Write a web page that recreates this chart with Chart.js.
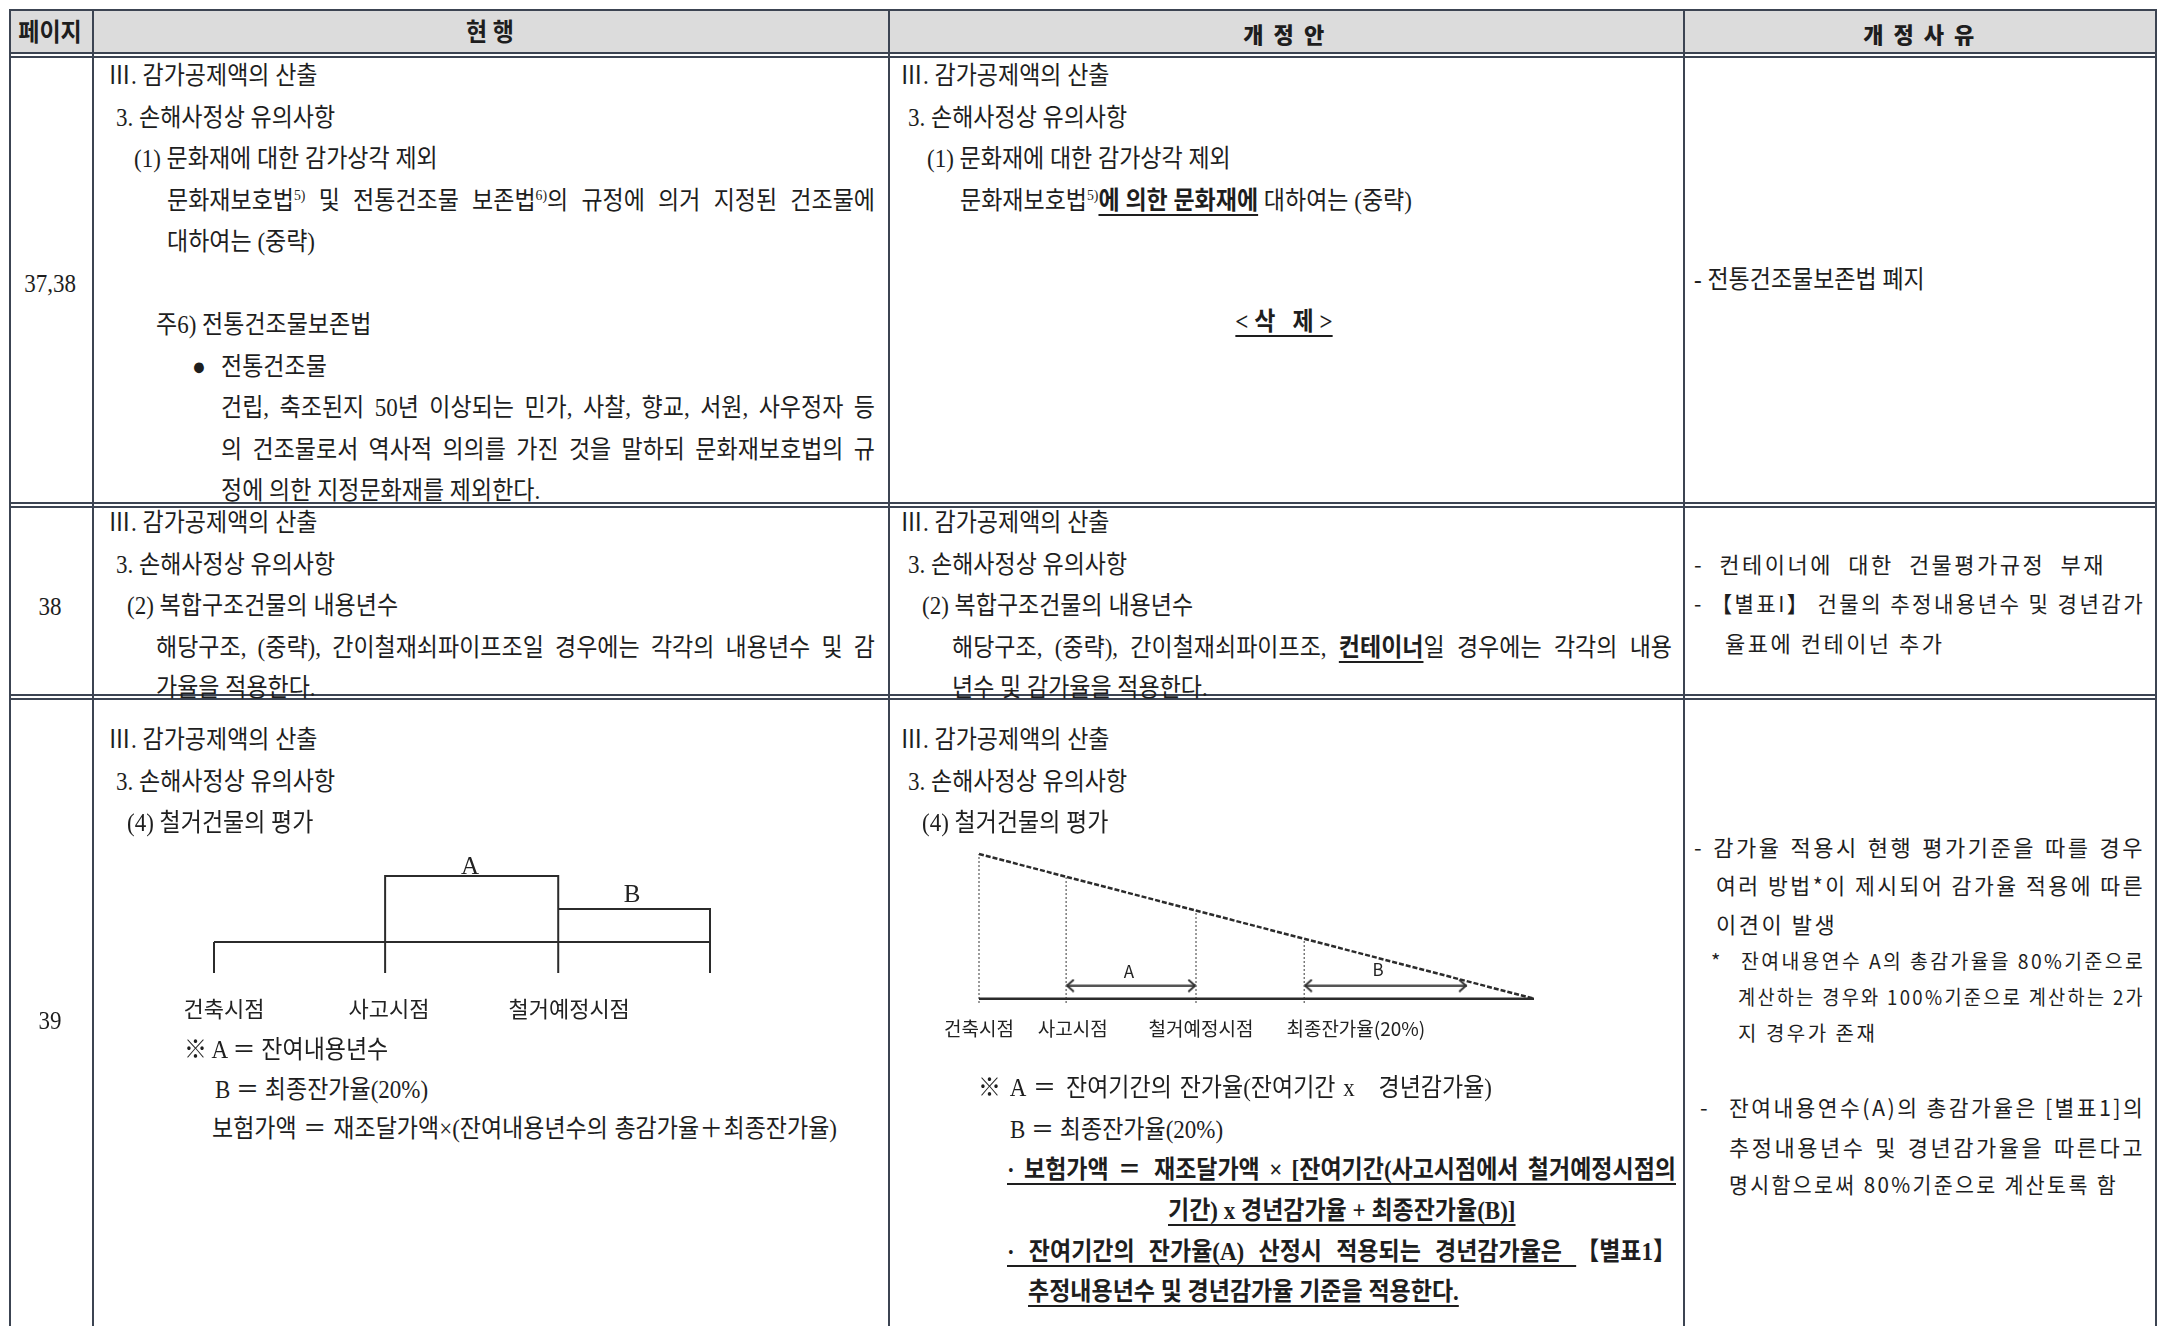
<!DOCTYPE html>
<html>
<head>
<meta charset="utf-8">
<script src="https://cdn.jsdelivr.net/npm/chart.js@4.4.1/dist/chart.umd.min.js"></script>
<style>
  body { margin: 0; width: 2170px; height: 1326px; overflow: hidden; position: relative; background: #fff; color: #1e1e1e; }
  .ln { position: absolute; background: #3c4452; }
  .t { position: absolute; height: 40px; line-height: 40px; white-space: nowrap; transform-origin: 0 50%; }
  .n { font-family: "Liberation Serif", "Noto Sans CJK KR", serif; font-size: 25px; }
  .g { font-family: "Noto Sans CJK KR", sans-serif; font-size: 22px; letter-spacing: 2.5px; }
  .s { font-size: 20px; }
  .b { font-weight: bold; }
  .k { display: inline-block; }
  u { text-underline-offset: 5px; text-decoration-thickness: 1.5px; }
  sup { font-size: 60%; line-height: 0; }
  .box { position: absolute; }
</style>
</head>
<body>
<div class="box" style="left:154px;top:820px;"><canvas id="diagram-now" width="606" height="210"></canvas></div>
<div class="box" style="left:920px;top:820px;"><canvas id="diagram-new" width="700" height="250"></canvas></div>
<script>
// 현행 도식: 건축시점 -> 사고시점 -> 철거예정시점 -> 내용년수 끝
const stepX = [0, 34.5, 69.4, 100];
const levelA = 2;      // 잔여내용년수 칸 높이
const levelB = 1;      // 최종잔가율 칸 높이
const tickLow = -0.94; // 눈금 아래 끝
const stepLabels = ['건축시점', '사고시점', '철거예정시점'];
const stepLabelX = [2, 35.3, 71.6];
const stepMarkText = ['A', 'B'];
const stepMarkX = [51.6, 84.3];
const stepMarkY = [2.27, 1.42];

// 개정안 도식: 잔가율 직선 (건축시점 100% -> 0)
const lifeX = [0, 15.7, 39.1, 58.6, 100];   // 건축, 사고, 철거예정, 최종잔가 시작, 끝
const residual = [100, 84, 61, 41, 0];      // 각 시점의 잔가
const guideLow = -3;
const arrowY = 9;
const arrowBEnd = 87.9;
const lifeLabels = ['건축시점', '사고시점', '철거예정시점', '최종잔가율(20%)'];
const lifeLabelX = [0, 16.9, 40, 67.9];
const lifeMarkText = ['A', 'B'];
const lifeMarkX = [27, 71.9];
const lifeMarkY = [18.6, 20];

// ---------- table frame ----------
function rule(x, y, w, h) {
  const d = document.createElement('div');
  d.className = 'ln';
  Object.assign(d.style, { left: x + 'px', top: y + 'px', width: w + 'px', height: h + 'px' });
  document.body.appendChild(d);
}
const head = document.createElement('div');
Object.assign(head.style, { position: 'absolute', left: '9px', top: '9px', width: '2147px', height: '45px', background: '#dcdcdc' });
document.body.appendChild(head);

rule(9, 9, 2147, 2);
rule(9, 52, 2147, 1.5); rule(9, 56, 2147, 1.5);
rule(9, 502, 2147, 1.5); rule(9, 506, 2147, 1.5);
rule(9, 694, 2147, 1.5); rule(9, 698, 2147, 1.5);
[9, 92, 888, 1683, 2155].forEach(x => rule(x, 9, 1.6, 1330));

// ---------- text ----------
function put(x, y, html, o = {}) {
  const d = document.createElement('div');
  d.className = 't ' + (o.cls || 'n');
  d.innerHTML = html;
  let sx = o.sx || (o.cls && o.cls.indexOf('g') >= 0 ? 1 : 0.92);
  d.style.top = (y - 20) + 'px';
  document.body.appendChild(d);
  if (o.c) {
    d.style.left = (x - 300) + 'px';
    d.style.width = '600px';
    d.style.textAlign = 'center';
    d.style.transformOrigin = '50% 50%';
  } else {
    d.style.left = x + 'px';
  }
  if (o.r) {
    const avail = o.r - x;
    const natural = d.offsetWidth;
    sx = Math.min(sx, avail / natural);
    d.style.width = (avail / sx) + 'px';
    d.style.textAlign = 'justify';
    d.style.textAlignLast = 'justify';
    d.style.textJustify = 'inter-word';
  }
  d.style.transform = 'scaleX(' + sx + ')';
}

// header
put(50, 33, '<b>페이지</b>', { c: true });
put(490, 33, '<b>현 행</b>', { c: true });
put(1285, 33, '<b>개 정 안</b>', { c: true, cls: 'g b', sx: 1 });
put(1920, 33, '<b>개 정 사 유</b>', { c: true, cls: 'g b', sx: 1 });

// page numbers
put(50, 284, '37,38', { c: true });
put(50, 607, '38', { c: true });
put(50, 1021, '39', { c: true });

// row 1 — 현행
put(108, 76, 'Ⅲ. 감가공제액의 산출');
put(116, 118, '3. 손해사정상 유의사항');
put(134, 159, '(1) 문화재에 대한 감가상각 제외');
put(167, 201, '문화재보호법<sup>5)</sup> 및 전통건조물 보존법<sup>6)</sup>의 규정에 의거 지정된 건조물에', { r: 875 });
put(167, 242, '대하여는 (중략)');
put(156, 325, '주6) 전통건조물보존법');
put(192, 367, '●');
put(221, 367, '전통건조물');
put(221, 408, '건립, 축조된지 50년 이상되는 민가, 사찰, 향교, 서원, 사우정자 등', { r: 875 });
put(221, 450, '의 건조물로서 역사적 의의를 가진 것을 말하되 문화재보호법의 규', { r: 875 });
put(221, 491, '정에 의한 지정문화재를 제외한다.');

// row 1 — 개정안
put(900, 76, 'Ⅲ. 감가공제액의 산출');
put(908, 118, '3. 손해사정상 유의사항');
put(927, 159, '(1) 문화재에 대한 감가상각 제외');
put(960, 201, '문화재보호법<sup>5)</sup><b><u>에 의한 문화재에</u></b> 대하여는 (중략)');
put(1284, 322, '<b><u>&lt; 삭&nbsp;&nbsp;&nbsp;제 &gt;</u></b>', { c: true });

// row 1 — 개정사유
put(1694, 280, '- 전통건조물보존법 폐지');

// row 2 — 현행
put(108, 523, 'Ⅲ. 감가공제액의 산출');
put(116, 565, '3. 손해사정상 유의사항');
put(127, 606, '(2) 복합구조건물의 내용년수');
put(156, 648, '해당구조, (중략), 간이철재쇠파이프조일 경우에는 각각의 내용년수 및 감', { r: 875 });
put(156, 688, '가율을 적용한다.');

// row 2 — 개정안
put(900, 523, 'Ⅲ. 감가공제액의 산출');
put(908, 565, '3. 손해사정상 유의사항');
put(922, 606, '(2) 복합구조건물의 내용년수');
put(952, 648, '해당구조, (중략), 간이철재쇠파이프조, <b><u>컨테이너</u></b>일 경우에는 각각의 내용', { r: 1672 });
put(952, 688, '년수 및 감가율을 적용한다.');

// row 2 — 개정사유
put(1694, 563, '- 컨테이너에 대한 건물평가규정 부재', { cls: 'g', r: 2106 });
put(1694, 602, '- <span class="k">【별표I】</span> 건물의 추정내용년수 및 경년감가', { cls: 'g', r: 2145 });
put(1725, 642, '율표에 컨테이넌 추가', { cls: 'g' });

// row 3 — 현행
put(108, 740, 'Ⅲ. 감가공제액의 산출');
put(116, 782, '3. 손해사정상 유의사항');
put(127, 823, '(4) 철거건물의 평가');
put(184, 1050, '※ A ＝ 잔여내용년수');
put(215, 1090, 'B ＝ 최종잔가율(20%)');
put(212, 1129, '보험가액 ＝ 재조달가액×(잔여내용년수의 총감가율＋최종잔가율)', { r: 837 });

// row 3 — 개정안
put(900, 740, 'Ⅲ. 감가공제액의 산출');
put(908, 782, '3. 손해사정상 유의사항');
put(922, 823, '(4) 철거건물의 평가');
put(978, 1088, '※ A ＝ 잔여기간의 잔가율(잔여기간 x&nbsp;&nbsp; 경년감가율)', { r: 1492 });
put(1010, 1130, 'B ＝ 최종잔가율(20%)');
put(1007, 1170, '<b><u>· 보험가액 ＝ 재조달가액 × [잔여기간(사고시점에서 철거예정시점의</u></b>', { r: 1676 });
put(1168, 1211, '<b><u>기간) x 경년감가율 + 최종잔가율(B)]</u></b>');
put(1007, 1252, '<b><u>· 잔여기간의 잔가율(A) 산정시 적용되는 경년감가율은 <span class="k">【별표1】</span></u></b>', { r: 1676 });
put(1028, 1292, '<b><u>추정내용년수 및 경년감가율 기준을 적용한다.</u></b>');

// row 3 — 개정사유
put(1694, 846, '- 감가율 적용시 현행 평가기준을 따를 경우', { cls: 'g', r: 2145 });
put(1716, 884, '여러 방법*이 제시되어 감가율 적용에 따른', { cls: 'g', r: 2145 });
put(1716, 923, '이견이 발생', { cls: 'g' });
put(1711, 961, '*', { cls: 'g s' });
put(1741, 961, '잔여내용연수 A의 총감가율을 80%기준으로', { cls: 'g s', r: 2145 });
put(1738, 997, '계산하는 경우와 100%기준으로 계산하는 2가', { cls: 'g s', r: 2145 });
put(1738, 1033, '지 경우가 존재', { cls: 'g s' });
put(1700, 1106, '-', { cls: 'g' });
put(1729, 1106, '잔여내용연수(A)의 총감가율은 [별표1]의', { cls: 'g', r: 2145 });
put(1729, 1146, '추정내용년수 및 경년감가율을 따른다고', { cls: 'g', r: 2145 });
put(1729, 1183, '명시함으로써 80%기준으로 계산토록 함', { cls: 'g', r: 2118 });

// ---------- diagrams ----------
const markPlugin = {
  id: 'marks',
  afterDatasetsDraw(chart, args, opts) {
    const { ctx, scales: { x, y } } = chart;
    ctx.save();
    ctx.font = opts.font;
    ctx.fillStyle = '#222';
    ctx.textAlign = 'center';
    ctx.textBaseline = 'middle';
    opts.text.forEach((t, i) => ctx.fillText(t, x.getPixelForValue(opts.xs[i]), y.getPixelForValue(opts.ys[i])));
    ctx.restore();
  }
};

function chevron(s) {
  const c = document.createElement('canvas');
  c.width = 2 * s; c.height = s;
  const g = c.getContext('2d');
  g.strokeStyle = '#333'; g.lineWidth = 2;
  g.beginPath(); g.moveTo(s * 0.45, 1); g.lineTo(s - 1, s / 2); g.lineTo(s * 0.45, s - 1); g.stroke();
  return c;
}

const seg = (pts, extra = {}) => Object.assign({
  data: pts, showLine: true, borderColor: '#2b2b2b', borderWidth: 2, pointRadius: 0, clip: false, tension: 0
}, extra);

const labelAxis = (labels, labelX, h, pad, size) => ({
  type: 'linear', min: 0, max: 100,
  grid: { display: false, drawTicks: false }, border: { display: false },
  afterBuildTicks: s => { s.ticks = labelX.map(v => ({ value: v })); },
  afterFit: s => { s.height = h; },
  ticks: {
    autoSkip: false, maxRotation: 0, minRotation: 0, padding: pad, color: '#222',
    font: { size: size, family: '"Noto Sans CJK KR", sans-serif' },
    callback: (v, i) => labels[i]
  }
});

// 현행
new Chart(document.getElementById('diagram-now').getContext('2d'), {
  type: 'scatter',
  data: {
    datasets: [
      seg([{ x: stepX[0], y: 0 }, { x: stepX[3], y: 0 }]),
      seg([{ x: stepX[0], y: 0 }, { x: stepX[0], y: tickLow }]),
      seg([{ x: stepX[1], y: tickLow }, { x: stepX[1], y: levelA }, { x: stepX[2], y: levelA }, { x: stepX[2], y: tickLow }]),
      seg([{ x: stepX[2], y: levelB }, { x: stepX[3], y: levelB }, { x: stepX[3], y: tickLow }])
    ]
  },
  options: {
    responsive: false, animation: false,
    layout: { padding: { left: 60, right: 50, top: 56, bottom: 0 } },
    plugins: {
      legend: { display: false }, tooltip: { enabled: false },
      marks: { text: stepMarkText, xs: stepMarkX, ys: stepMarkY, font: '25px "Liberation Serif", serif' }
    },
    scales: {
      x: labelAxis(stepLabels, stepLabelX, 57, 22, 22),
      y: { display: false, min: tickLow, max: levelA }
    }
  },
  plugins: [markPlugin]
});

// 개정안
const chev = chevron(14);
const dotted = { borderColor: '#666', borderWidth: 1.3, borderDash: [2, 2] };
new Chart(document.getElementById('diagram-new').getContext('2d'), {
  type: 'scatter',
  data: {
    datasets: [
      seg([{ x: lifeX[0], y: residual[0] }, { x: lifeX[4], y: residual[4] }], { borderWidth: 2.5, borderDash: [5, 2] }),
      seg([{ x: lifeX[0], y: 0 }, { x: lifeX[4], y: 0 }], { borderWidth: 2.5 }),
      seg([{ x: lifeX[0], y: guideLow }, { x: lifeX[0], y: residual[0] }], dotted),
      seg([{ x: lifeX[1], y: guideLow }, { x: lifeX[1], y: residual[1] }], dotted),
      seg([{ x: lifeX[2], y: guideLow }, { x: lifeX[2], y: residual[2] }], dotted),
      seg([{ x: lifeX[3], y: guideLow }, { x: lifeX[3], y: residual[3] }], dotted),
      seg([{ x: lifeX[1], y: arrowY }, { x: lifeX[2], y: arrowY }],
        { borderColor: '#555', borderWidth: 2.5, pointRadius: 5, pointStyle: chev, pointRotation: [180, 0] }),
      seg([{ x: lifeX[3], y: arrowY }, { x: arrowBEnd, y: arrowY }],
        { borderColor: '#555', borderWidth: 2.5, pointRadius: 5, pointStyle: chev, pointRotation: [180, 0] })
    ]
  },
  options: {
    responsive: false, animation: false,
    layout: { padding: { left: 59, right: 86, top: 34, bottom: 0 } },
    plugins: {
      legend: { display: false }, tooltip: { enabled: false },
      marks: { text: lifeMarkText, xs: lifeMarkX, ys: lifeMarkY, font: '17px "Noto Sans CJK KR", sans-serif' }
    },
    scales: {
      x: labelAxis(lifeLabels, lifeLabelX, 67, 14, 19),
      y: { display: false, min: guideLow, max: residual[0] }
    }
  },
  plugins: [markPlugin]
});
</script>
</body>
</html>
